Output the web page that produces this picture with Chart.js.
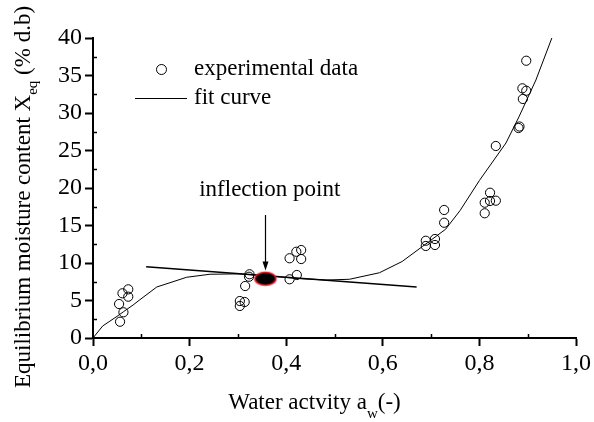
<!DOCTYPE html>
<html>
<head>
<meta charset="utf-8">
<script src="https://cdn.jsdelivr.net/npm/chart.js@4/dist/chart.umd.min.js"></script>
<style>
  html, body { margin: 0; padding: 0; background: #fff; }
  canvas { display: block; }
</style>
</head>
<body>
<canvas id="c" width="594" height="422"></canvas>
<script>
// ---- data ----
const expX = [0.073, 0.061, 0.073, 0.054, 0.063, 0.056,
              0.323, 0.324, 0.315, 0.304, 0.314, 0.304,
              0.407, 0.421, 0.431, 0.431, 0.407, 0.422,
              0.689, 0.689, 0.708, 0.708, 0.727, 0.727,
              0.822, 0.811, 0.822, 0.834, 0.811,
              0.834, 0.881, 0.883, 0.890, 0.889, 0.897, 0.897];
const expY = [6.49, 5.96, 5.51, 4.53, 3.43, 2.17,
              8.17, 8.5, 6.93, 4.93, 4.8, 4.27,
              10.63, 11.5, 11.73, 10.53, 7.83, 8.4,
              12.97, 12.27, 13.2, 12.4, 17.07, 15.37,
              19.37, 18.04, 18.27, 18.31, 16.63,
              25.6, 28.0, 28.2, 31.87, 33.29, 32.97, 36.97];
const fitX = [0, 0.02, 0.05, 0.063, 0.083, 0.097, 0.132, 0.194, 0.242, 0.30, 0.36, 0.42,
              0.483, 0.531, 0.593, 0.64, 0.682, 0.73, 0.76, 0.80, 0.855, 0.882, 0.917, 0.95];
const fitY = [0, 1.6, 2.9, 3.5, 4.4, 5.1, 6.8, 8.1, 8.5, 8.55, 8.3, 7.95,
              7.73, 7.83, 8.7, 10.2, 12.2, 14.5, 17.0, 21.0, 26.0, 29.5, 34.4, 40.0];
const tangentX = [0.11, 0.67];
const tangentY = [9.5, 6.8];
const inflectionX = [0.357];
const inflectionY = [7.9];
const xTicks = [0, 0.2, 0.4, 0.6, 0.8, 1.0];
const yTicks = [0, 5, 10, 15, 20, 25, 30, 35, 40];
const xMinor = [0.1, 0.3, 0.5, 0.7, 0.9];
const yMinor = [2.5, 7.5, 12.5, 17.5, 22.5, 27.5, 32.5, 37.5];
const labelText = "inflection point";
const labelPos = [0.366, 18.9];     // x value, y value of label baseline
const arrowPos = [0.356, 16.4, 9.0]; // x, top y, tip y

const FONT = '"Liberation Serif", "Times New Roman", serif';

// ellipse marker for the inflection point
const ell = document.createElement('canvas');
ell.width = 24; ell.height = 16;
(function () {
  const g = ell.getContext('2d');
  g.beginPath();
  g.ellipse(12, 8, 10.5, 6.5, 0, 0, Math.PI * 2);
  g.fillStyle = '#000';
  g.fill();
  g.lineWidth = 1.6;
  g.strokeStyle = '#ee1c24';
  g.stroke();
})();

const toPts = (xs, ys) => xs.map((v, i) => ({ x: v, y: ys[i] }));

const annot = {
  id: 'annot',
  afterDraw(chart) {
    const { ctx } = chart;
    const x = chart.scales.x, y = chart.scales.y;
    const area = chart.chartArea;
    ctx.save();
    ctx.strokeStyle = '#000';
    ctx.fillStyle = '#000';
    // minor ticks (inward)
    ctx.lineWidth = 1.5;
    ctx.beginPath();
    xMinor.forEach(v => {
      const px = Math.round(x.getPixelForValue(v)) + 0.5;
      ctx.moveTo(px, area.bottom);
      ctx.lineTo(px, area.bottom - 4);
    });
    yMinor.forEach(v => {
      const py = Math.round(y.getPixelForValue(v)) + 0.5;
      ctx.moveTo(area.left, py);
      ctx.lineTo(area.left + 4, py);
    });
    ctx.stroke();

    // arrow
    const ax = Math.round(x.getPixelForValue(arrowPos[0])) + 0.5;
    const ay1 = y.getPixelForValue(arrowPos[1]);
    const ay2 = y.getPixelForValue(arrowPos[2]);
    ctx.lineWidth = 1.2;
    ctx.beginPath();
    ctx.moveTo(ax, ay1);
    ctx.lineTo(ax, ay2 - 6);
    ctx.stroke();
    ctx.beginPath();
    ctx.moveTo(ax - 3, ay2 - 9);
    ctx.lineTo(ax + 3, ay2 - 9);
    ctx.lineTo(ax, ay2);
    ctx.closePath();
    ctx.fill();

    // annotation label
    ctx.font = '23px ' + FONT;
    ctx.textAlign = 'center';
    ctx.textBaseline = 'alphabetic';
    ctx.fillText(labelText, x.getPixelForValue(labelPos[0]), y.getPixelForValue(labelPos[1]));

    // legend
    ctx.textAlign = 'left';
    ctx.lineWidth = 1;
    ctx.beginPath();
    ctx.arc(161.5, 69.5, 5, 0, Math.PI * 2);
    ctx.stroke();
    ctx.fillText('experimental data', 194, 75);
    ctx.beginPath();
    ctx.moveTo(135, 98.5);
    ctx.lineTo(187, 98.5);
    ctx.stroke();
    ctx.fillText('fit curve', 194, 103.5);

    // x axis title with subscript
    const main = '23px ' + FONT, sub = '15px ' + FONT;
    ctx.font = main;
    const t1 = 'Water actvity a', t3 = '(-)';
    const w1 = ctx.measureText(t1).width, w3 = ctx.measureText(t3).width;
    ctx.font = sub;
    const w2 = ctx.measureText('w').width;
    let sx = 314.5 - (w1 + w2 + w3) / 2;
    ctx.font = main;
    ctx.fillText(t1, sx, 409);
    ctx.font = sub;
    ctx.fillText('w', sx + w1, 418);
    ctx.font = main;
    ctx.fillText(t3, sx + w1 + w2, 409);

    // y axis title with subscript
    const s1 = 'Equilibrium moisture content X', s2 = 'eq', s3 = ' (% d.b)';
    ctx.font = main;
    const v1 = ctx.measureText(s1).width, v3 = ctx.measureText(s3).width;
    ctx.font = sub;
    const v2 = ctx.measureText(s2).width;
    ctx.translate(30, 197);
    ctx.rotate(-Math.PI / 2);
    let sy = -(v1 + v2 + v3) / 2;
    ctx.font = main;
    ctx.fillText(s1, sy, 0);
    ctx.font = sub;
    ctx.fillText(s2, sy + v1, 7);
    ctx.font = main;
    ctx.fillText(s3, sy + v1 + v2, 0);
    ctx.restore();
  }
};

new Chart(document.getElementById('c'), {
  type: 'scatter',
  data: {
    datasets: [
      {
        label: 'fit curve',
        data: toPts(fitX, fitY),
        showLine: true,
        borderColor: '#000',
        borderWidth: 1,
        pointRadius: 0,
        tension: 0,
        order: 3
      },
      {
        label: 'tangent',
        data: toPts(tangentX, tangentY),
        showLine: true,
        borderColor: '#000',
        borderWidth: 1.6,
        pointRadius: 0,
        tension: 0,
        order: 2
      },
      {
        label: 'experimental data',
        data: toPts(expX, expY),
        pointStyle: 'circle',
        pointRadius: 4.6,
        borderWidth: 1,
        borderColor: '#000',
        backgroundColor: 'rgba(0,0,0,0)',
        order: 1
      },
      {
        label: 'inflection point',
        data: toPts(inflectionX, inflectionY),
        pointStyle: ell,
        pointRadius: 10,
        order: 0
      }
    ]
  },
  options: {
    responsive: false,
    animation: false,
    devicePixelRatio: 1,
    layout: { padding: { left: 0, top: 38, right: 17, bottom: 0 } },
    plugins: { legend: { display: false }, tooltip: { enabled: false } },
    scales: {
      x: {
        type: 'linear',
        min: 0, max: 1.0,
        afterFit: s => { s.height = 84; },
        afterBuildTicks: s => { s.ticks = xTicks.map(v => ({ value: v })); },
        ticks: {
          color: '#000',
          font: { family: FONT, size: 24 },
          padding: 3,
          maxRotation: 0,
          callback: v => v.toFixed(1).replace('.', ',')
        },
        grid: { display: true, drawOnChartArea: false, drawTicks: true, tickLength: 8, tickWidth: 2, tickColor: '#000' },
        border: { display: true, color: '#000', width: 2 }
      },
      y: {
        type: 'linear',
        min: 0, max: 40,
        afterFit: s => { s.width = 93; },
        afterBuildTicks: s => { s.ticks = yTicks.map(v => ({ value: v })); },
        ticks: {
          color: '#000',
          font: { family: FONT, size: 24 },
          padding: 3,
          callback: v => String(v)
        },
        grid: { display: true, drawOnChartArea: false, drawTicks: true, tickLength: 8, tickWidth: 2, tickColor: '#000' },
        border: { display: true, color: '#000', width: 2 }
      }
    }
  },
  plugins: [annot]
});
</script>
</body>
</html>
